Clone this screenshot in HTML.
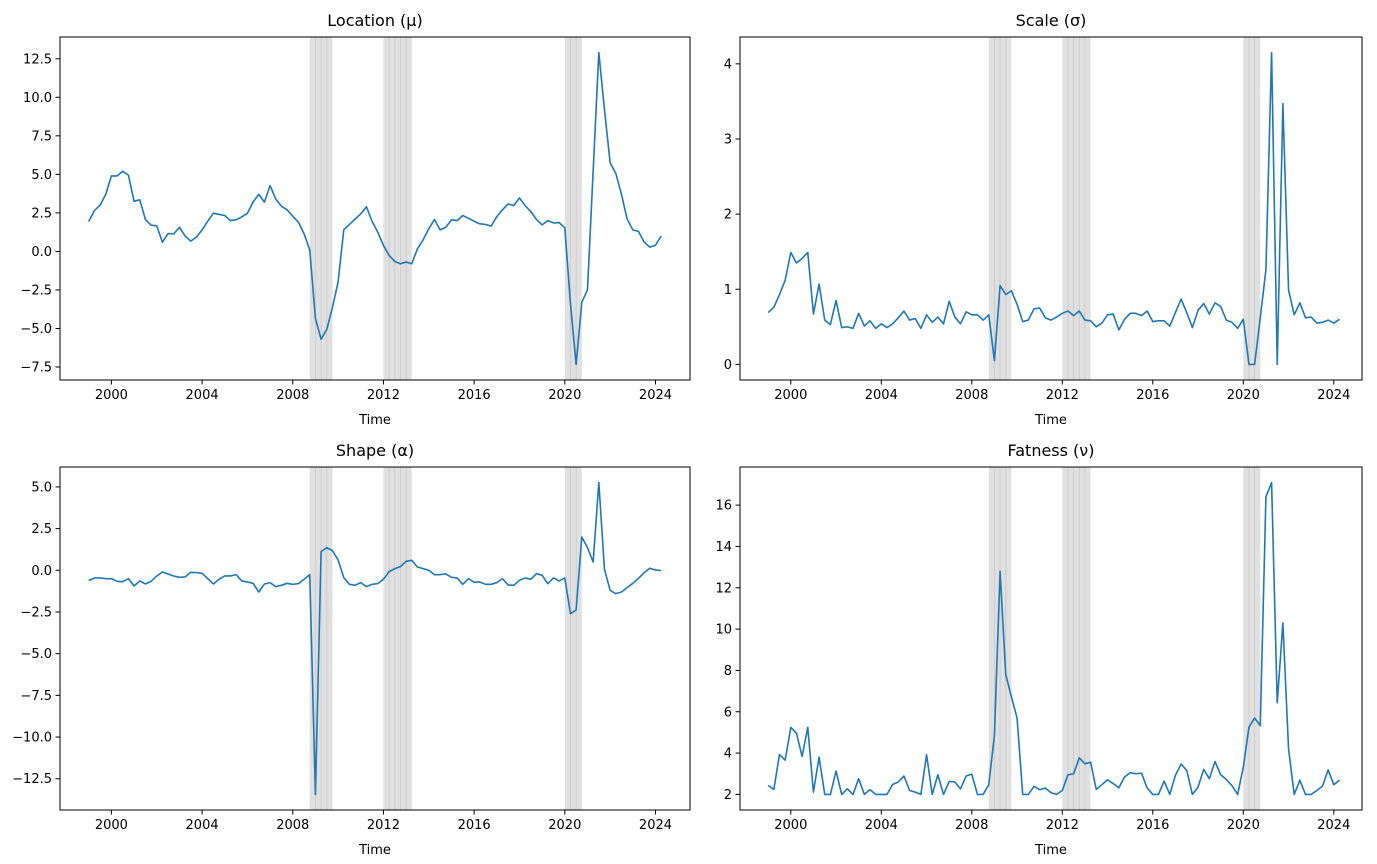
<!DOCTYPE html>
<html><head><meta charset="utf-8">
<style>
html,body{margin:0;padding:0;background:#fff;}
svg{display:block;font-family:"DejaVu Sans","Liberation Sans",sans-serif;}
</style></head>
<body>
<svg id="fig" width="1377" height="864" viewBox="0 0 1377 864" xmlns="http://www.w3.org/2000/svg"></svg>
<script>
const startYear = 1999.0;
const location_mu = [1.94,2.65,3.0,3.7,4.9,4.9,5.2,4.95,3.25,3.35,
2.07,1.7,1.66,0.6,1.16,1.14,1.57,1.0,0.67,0.93,
1.4,1.96,2.48,2.4,2.33,2.0,2.05,2.24,2.48,3.2,
3.7,3.2,4.27,3.4,2.93,2.7,2.28,1.9,1.14,0.1,
-4.35,-5.7,-5.06,-3.64,-1.98,1.4,1.75,2.1,2.44,2.9,
1.94,1.25,0.39,-0.26,-0.65,-0.8,-0.69,-0.8,0.17,0.75,
1.47,2.07,1.4,1.57,2.05,2.0,2.33,2.15,1.96,1.79,
1.75,1.64,2.26,2.7,3.08,2.97,3.47,2.97,2.59,2.07,
1.72,2.0,1.85,1.87,
1.53,-3.4,-7.33,-3.3,-2.5,5.2,12.9,9.2,5.75,5.06,3.7,2.1,1.4,1.3,0.6,0.28,0.4,1.0];
const scale_sigma = [0.69,0.76,0.93,1.12,1.49,1.35,1.41,1.49,0.67,1.07,
0.59,0.53,0.85,0.49,0.5,0.48,0.68,0.51,0.58,0.48,
0.54,0.49,0.54,0.62,0.71,0.59,0.61,0.48,0.66,0.56,
0.63,0.54,0.84,0.63,0.54,0.7,0.66,0.66,0.59,0.66,
0.05,1.05,0.93,0.98,0.8,0.57,0.59,0.74,0.75,0.62,
0.59,0.63,0.68,0.71,0.65,0.71,0.59,0.58,0.5,0.55,
0.66,0.67,0.46,0.6,0.68,0.68,0.65,0.71,0.57,0.58,
0.58,0.51,0.69,0.87,0.69,0.49,0.72,0.81,0.67,0.82,
0.77,0.59,0.56,0.48,0.6,0.0,0.0,0.62,1.26,4.15,
0.0,3.47,0.99,0.66,0.82,0.62,0.63,0.55,0.56,0.59,0.55,0.6];
const shape_alpha = [-0.62,-0.46,-0.46,-0.5,-0.5,-0.66,-0.68,-0.5,-0.94,-0.64,
-0.82,-0.66,-0.34,-0.1,-0.22,-0.34,-0.42,-0.4,-0.12,-0.14,
-0.18,-0.5,-0.82,-0.54,-0.34,-0.34,-0.26,-0.64,-0.7,-0.78,
-1.3,-0.82,-0.74,-0.98,-0.9,-0.78,-0.84,-0.8,-0.54,-0.26,
-13.44,1.12,1.36,1.18,0.62,-0.44,-0.84,-0.9,-0.74,-0.98,
-0.84,-0.8,-0.54,-0.08,0.1,0.22,0.54,0.6,0.2,0.1,
0.0,-0.26,-0.26,-0.22,-0.42,-0.46,-0.84,-0.5,-0.72,-0.7,
-0.84,-0.84,-0.74,-0.5,-0.88,-0.9,-0.6,-0.46,-0.54,-0.2,
-0.3,-0.8,-0.46,-0.64,-0.46,-2.6,-2.38,2.0,1.36,0.5,
5.26,0.06,-1.2,-1.4,-1.3,-1.04,-0.78,-0.48,-0.14,0.12,0.02,-0.02];
const fatness_nu = [2.43,2.24,3.93,3.66,5.24,4.96,3.84,5.24,2.11,3.8,
2.0,2.0,3.13,2.0,2.27,2.0,2.76,2.0,2.23,2.0,
2.0,2.0,2.48,2.6,2.89,2.19,2.11,2.0,3.92,2.0,
2.95,2.0,2.63,2.6,2.27,2.89,2.98,2.0,2.0,2.47,
4.85,12.8,7.8,6.73,5.7,2.0,2.0,2.39,2.23,2.31,
2.08,2.0,2.19,2.95,3.0,3.77,3.48,3.56,2.24,2.47,
2.71,2.52,2.32,2.84,3.05,3.0,3.03,2.31,2.0,2.0,
2.64,2.0,2.92,3.47,3.16,2.0,2.35,3.21,2.76,3.59,
2.95,2.72,2.43,2.0,3.32,5.25,5.7,5.33,16.4,17.09,
6.43,10.3,4.2,2.0,2.69,2.0,2.0,2.19,2.4,3.19,2.47,2.69];
const xTickYears = [2000,2004,2008,2012,2016,2020,2024];
const recessionStarts = [2008.75,2012.0,2020.0];
const recessionEnds = [2009.75,2013.25,2020.75];
const ticksLocation = [12.5,10.0,7.5,5.0,2.5,0.0,-2.5,-5.0,-7.5];
const ticksScale = [0,1,2,3,4];
const ticksShape = [5.0,2.5,0.0,-2.5,-5.0,-7.5,-10.0,-12.5];
const ticksFatness = [2,4,6,8,10,12,14,16];

const NS="http://www.w3.org/2000/svg";
const svg=document.getElementById('fig');
function mk(tag,attrs,parent){const e=document.createElementNS(NS,tag);for(const k in attrs)e.setAttribute(k,attrs[k]);(parent||svg).appendChild(e);return e;}

const panels=[
 {name:'location',title:'Location (μ)',data:location_mu,ticks:ticksLocation,dec:1,x0:60,x1:690,y0:37,y1:380,px2000:111.4,pxYr:22.67},
 {name:'scale',title:'Scale (σ)',data:scale_sigma,ticks:ticksScale,dec:0,x0:740,x1:1362,y0:37,y1:380,px2000:790.8,pxYr:22.625},
 {name:'shape',title:'Shape (α)',data:shape_alpha,ticks:ticksShape,dec:1,x0:60,x1:690,y0:467,y1:810,px2000:111.4,pxYr:22.67},
 {name:'fatness',title:'Fatness (ν)',data:fatness_nu,ticks:ticksFatness,dec:0,x0:740,x1:1362,y0:467,y1:810,px2000:790.8,pxYr:22.625}
];
panels.forEach(p=>{
 const dmin=Math.min(...p.data),dmax=Math.max(...p.data);
 const ym=(dmax-dmin)*0.05;
 const ymin=dmin-ym,ymax=dmax+ym;
 const X=t=>p.px2000+(t-2000)*p.pxYr;
 const Y=v=>p.y1-(v-ymin)/(ymax-ymin)*(p.y1-p.y0);
 const g=mk('g',{});
 
 
 recessionStarts.forEach((s,i)=>{
  const e=recessionEnds[i];
  const r=mk('rect',{x:X(s),y:p.y0,width:X(e)-X(s),height:p.y1-p.y0,fill:'#e0e0e0'},g);
  
  
  for(let q=s+0.25;q<e-0.01;q+=0.25){
   mk('line',{x1:X(q),x2:X(q),y1:p.y0,y2:p.y1,stroke:'#c9c9c9','stroke-width':0.8},g);
  }
 });
 let d='';
 p.data.forEach((v,i)=>{d+=(i?'L':'M')+X(startYear+i*0.25).toFixed(2)+','+Y(v).toFixed(2);});
 const path=mk('path',{d:d,fill:'none',stroke:'#1f77b4','stroke-width':1.6,'stroke-linejoin':'round'},g);
 
 
 mk('rect',{x:p.x0,y:p.y0,width:p.x1-p.x0,height:p.y1-p.y0,fill:'none',stroke:'#000','stroke-width':1},g);
 xTickYears.forEach(yr=>{
  const x=X(yr);
  mk('line',{x1:x,x2:x,y1:p.y1,y2:p.y1+4.5,stroke:'#000','stroke-width':1},g);
  const t=mk('text',{x:x,y:p.y1+19,'text-anchor':'middle','font-size':13,fill:'#000'},g);
  t.textContent=yr;
  
  
 });
 p.ticks.forEach(v=>{
  const y=Y(v);
  mk('line',{x1:p.x0-4.5,x2:p.x0,y1:y,y2:y,stroke:'#000','stroke-width':1},g);
  const t=mk('text',{x:p.x0-8,y:y+4.5,'text-anchor':'end','font-size':13,fill:'#000'},g);
  t.textContent=v.toFixed(p.dec).replace('-','−');
  
  
 });
 const ti=mk('text',{x:(p.x0+p.x1)/2,y:p.y0-11,'text-anchor':'middle','font-size':16,fill:'#000'},g);
 ti.textContent=p.title;
 
 
 const xl=mk('text',{x:(p.x0+p.x1)/2,y:p.y1+44,'text-anchor':'middle','font-size':13,fill:'#000'},g);
 xl.textContent='Time';
 
 
});
</script>
</body></html>
